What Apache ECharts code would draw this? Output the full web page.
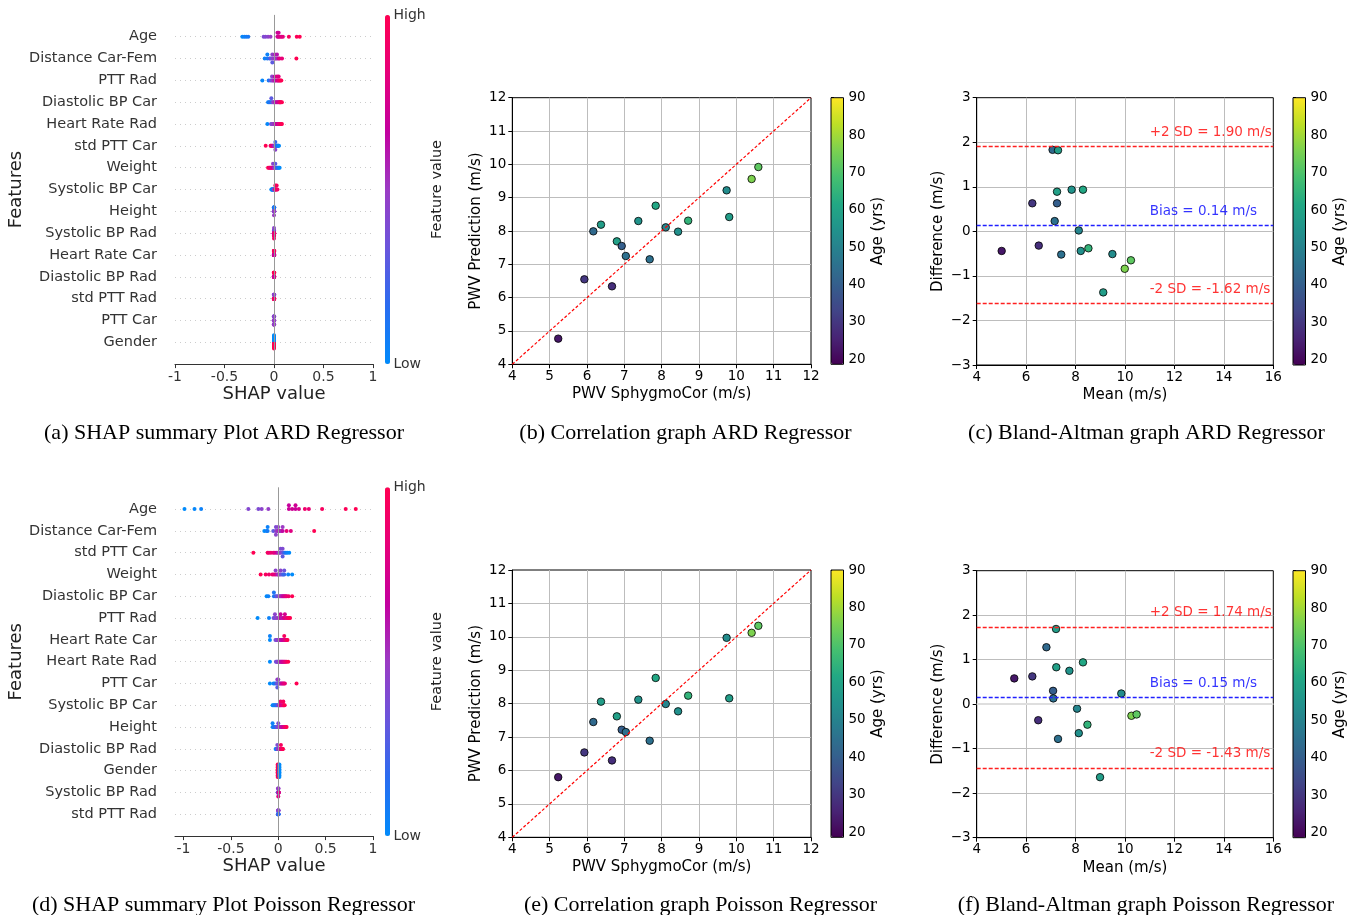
<!DOCTYPE html>
<html>
<head>
<meta charset="utf-8">
<title>SHAP / correlation / Bland-Altman</title>
<script src="https://cdn.jsdelivr.net/npm/echarts@6.0.0/dist/echarts.min.js"></script>
<style>
  html, body { margin: 0; padding: 0; background: #fff; }
  #chart { width: 1359px; height: 915px; }
</style>
</head>
<body>
<div id="chart"></div>
<script>
// ---------- data ----------
const ageRange = [18.6, 90];
const ageTicks = [20, 30, 40, 50, 60, 70, 80, 90];

// 18 test subjects, sorted by reference PWV
const pwvRef = [5.23, 5.93, 6.17, 6.375, 6.67, 6.80, 6.93, 7.04, 7.375, 7.68, 7.84, 8.11, 8.44, 8.71, 9.74, 9.81, 10.41, 10.59];
const pwvPredARD = [4.77, 6.55, 7.99, 8.19, 6.34, 7.69, 7.55, 7.25, 8.30, 7.15, 8.76, 8.11, 7.98, 8.31, 9.22, 8.42, 9.56, 9.92];
const pwvPredPoisson = [5.80, 6.54, 7.45, 8.06, 6.30, 7.62, 7.22, 7.15, 8.12, 6.89, 8.77, 7.99, 7.77, 8.24, 9.97, 8.16, 10.12, 10.33];
const age = [23, 30, 43, 58, 28, 59, 40, 45, 55, 45, 61, 51, 54, 65, 53, 58, 76, 72];

// Bland-Altman points (same subject order)
const baMeanARD = [5.01, 6.25, 7.07, 7.29, 6.51, 7.25, 7.25, 7.155, 7.84, 7.42, 8.30, 8.13, 8.21, 8.52, 9.49, 9.12, 9.99, 10.24];
const baDiffARD = [-0.44, 0.63, 1.83, 1.82, -0.32, 0.89, 0.63, 0.23, 0.935, -0.52, 0.935, 0.02, -0.44, -0.38, -0.51, -1.37, -0.84, -0.65];
const baMeanPoisson = [5.52, 6.25, 6.82, 7.21, 6.49, 7.22, 7.09, 7.10, 7.75, 7.29, 8.30, 8.06, 8.13, 8.48, 9.85, 8.99, 10.26, 10.47];
const baDiffPoisson = [0.58, 0.625, 1.28, 1.69, -0.36, 0.83, 0.30, 0.13, 0.75, -0.78, 0.94, -0.10, -0.65, -0.46, 0.24, -1.64, -0.26, -0.23];
const loaARD = [1.90, 0.14, -1.62];      // +2SD, bias, -2SD
const loaPoisson = [1.74, 0.15, -1.43];
const loaNames = ['+2 SD', 'Bias', '-2 SD'];

// SHAP summary, features listed top to bottom; fv = normalised feature value
const featuresARD = ['Age', 'Distance Car-Fem', 'PTT Rad', 'Diastolic BP Car', 'Heart Rate Rad', 'std PTT Car', 'Weight',
  'Systolic BP Car', 'Height', 'Systolic BP Rad', 'Heart Rate Car', 'Diastolic BP Rad', 'std PTT Rad', 'PTT Car', 'Gender'];
const shapARD = [
  [-0.32, -0.30, -0.28, -0.26, -0.105, -0.085, -0.06, -0.035, 0.035, 0.035, 0.047, 0.047, 0.06, 0.075, 0.09, 0.15, 0.23, 0.26],
  [-0.094, -0.067, -0.067, -0.044, -0.03, -0.017, -0.017, -0.017, -0.005, 0.007, 0.007, 0.018, 0.03, 0.03, 0.045, 0.057, 0.081, 0.226],
  [-0.118, -0.054, -0.034, -0.02, -0.02, -0.01, 0.0, 0.007, 0.007, 0.017, 0.03, 0.03, 0.04, 0.047, 0.047, 0.057, 0.065, 0.074],
  [-0.06, -0.05, -0.04, -0.027, -0.027, -0.015, -0.005, 0.0, 0.01, 0.02, 0.03, 0.04, 0.05, 0.055, 0.06, 0.065, 0.07, 0.08],
  [-0.067, -0.03, -0.022, -0.015, -0.008, 0.0, 0.005, 0.012, 0.018, 0.025, 0.03, 0.038, 0.045, 0.05, 0.058, 0.065, 0.072, 0.08],
  [-0.084, -0.035, -0.03, -0.022, -0.015, -0.008, 0.0, 0.006, 0.0135, 0.0135, 0.0135, 0.02, 0.026, 0.03, 0.035, 0.04, 0.045, 0.05],
  [-0.06, -0.05, -0.042, -0.035, -0.028, -0.02, -0.01, -0.01, 0.0, 0.006, 0.0135, 0.0135, 0.02, 0.027, 0.034, 0.042, 0.05, 0.057],
  [-0.027, -0.023, -0.02, -0.016, -0.013, -0.01, -0.007, -0.003, 0.0, 0.004, 0.007, 0.01, 0.0135, 0.0135, 0.02, 0.027, 0.027, 0.035],
  [-0.002, -0.002, -0.0015, -0.001, -0.001, -0.0005, 0, 0, 0, 0.0005, 0.001, 0.001, 0.0015, 0.002, 0.002, 0.0025, 0.003, 0.003],
  [0, 0, 0, 0, 0, -0.001, -0.001, -0.001, 0.001, 0.001, 0.001, -0.002, 0.002, -0.0015, 0.0015, -0.0005, 0.0005, 0.0025],
  [-0.002, -0.002, -0.0015, -0.001, -0.001, -0.0005, 0, 0, 0.0005, 0.001, 0.001, 0.0015, 0.002, 0.002, 0.0025, 0.003, 0.003, -0.0025],
  [-0.002, -0.002, -0.0015, -0.001, -0.001, -0.0005, 0, 0, 0.0005, 0.001, 0.001, 0.0015, 0.002, 0.002, 0.0025, 0.003, 0.003, -0.0025],
  [-0.002, -0.002, -0.0015, -0.001, -0.001, -0.0005, 0, 0, 0.0005, 0.001, 0.001, 0.0015, 0.002, 0.002, 0.0025, 0.003, 0.003, -0.0025],
  [0, 0, 0, -0.002, -0.002, -0.002, 0.002, 0.002, 0.002, -0.001, -0.001, -0.001, 0.001, 0.001, 0.001, -0.003, 0.003, 0.0005],
  [0, 0, 0, 0, 0, 0, 0, 0, 0, 0, 0, 0, 0, 0, 0, 0, 0, 0]
];
const fvARD = [
  [0.02, 0.05, 0.08, 0.1, 0.4, 0.42, 0.45, 0.5, 0.72, 0.7, 0.75, 0.72, 0.78, 0.8, 0.82, 0.95, 0.98, 1.0],
  [0.05, 0.1, 0.05, 0.2, 0.35, 0.4, 0.45, 0.3, 0.5, 0.45, 0.55, 0.6, 0.5, 0.6, 0.7, 0.8, 0.85, 1.0],
  [0.02, 0.1, 0.3, 0.4, 0.45, 0.5, 0.55, 0.6, 0.65, 0.7, 0.7, 0.8, 0.75, 0.85, 0.8, 0.9, 0.95, 1.0],
  [0.05, 0.1, 0.12, 0.15, 0.3, 0.35, 0.45, 0.5, 0.55, 0.6, 0.65, 0.7, 0.75, 0.8, 0.85, 0.9, 0.95, 1.0],
  [0.02, 0.35, 0.4, 0.42, 0.45, 0.5, 0.52, 0.55, 0.6, 0.65, 0.7, 0.72, 0.75, 0.8, 0.85, 0.9, 0.95, 1.0],
  [1.0, 0.95, 0.9, 0.85, 0.8, 0.7, 0.6, 0.5, 0.3, 0.2, 0.45, 0.35, 0.25, 0.15, 0.1, 0.08, 0.05, 0.0],
  [1.0, 0.95, 0.92, 0.9, 0.85, 0.8, 0.7, 0.45, 0.6, 0.5, 0.4, 0.3, 0.35, 0.25, 0.2, 0.12, 0.05, 0.0],
  [0.0, 0.02, 0.05, 0.08, 0.1, 0.12, 0.15, 0.2, 0.3, 0.45, 0.5, 0.6, 0.9, 0.95, 0.85, 1.0, 0.95, 0.9],
  [0.4, 0.1, 0.45, 0.4, 0.05, 0.4, 0.45, 0.1, 0.5, 0.4, 0.35, 0.1, 0.4, 0.45, 0.15, 0.4, 0.5, 0.1],
  [0.75, 0.45, 0.8, 0.45, 0.9, 0.7, 0.45, 0.85, 0.75, 0.4, 0.9, 0.6, 0.75, 0.5, 0.7, 0.8, 0.65, 0.9],
  [0.75, 0.95, 0.7, 0.75, 0.95, 0.7, 0.75, 0.95, 0.7, 0.75, 0.95, 0.7, 0.75, 0.95, 0.7, 0.75, 0.95, 0.7],
  [0.8, 1.0, 0.75, 0.8, 0.95, 0.7, 0.85, 1.0, 0.75, 0.8, 1.0, 0.7, 0.8, 0.95, 0.75, 0.85, 1.0, 0.7],
  [0.95, 0.45, 0.9, 0.95, 0.45, 0.9, 0.95, 0.45, 0.9, 0.95, 0.45, 0.9, 0.95, 0.45, 0.9, 0.95, 0.45, 0.9],
  [0.45, 0.4, 0.5, 0.42, 0.38, 0.48, 0.45, 0.4, 0.5, 0.42, 0.45, 0.5, 0.4, 0.45, 0.48, 0.42, 0.45, 0.5],
  [0, 0, 1, 0, 1, 0, 1, 0, 1, 0, 1, 0, 1, 0, 1, 0, 1, 0]
];

const featuresPoisson = ['Age', 'Distance Car-Fem', 'std PTT Car', 'Weight', 'Diastolic BP Car', 'PTT Rad', 'Heart Rate Car',
  'Heart Rate Rad', 'PTT Car', 'Systolic BP Car', 'Height', 'Diastolic BP Rad', 'Gender', 'Systolic BP Rad', 'std PTT Rad'];
const shapPoisson = [
  [-0.99, -0.884, -0.814, -0.316, -0.21, -0.175, -0.105, 0.112, 0.112, 0.147, 0.182, 0.182, 0.218, 0.281, 0.323, 0.463, 0.712, 0.818],
  [-0.147, -0.123, -0.112, -0.112, -0.053, -0.025, -0.025, -0.025, -0.01, 0.0, 0.0, 0.015, 0.03, 0.046, 0.046, 0.088, 0.133, 0.379],
  [-0.263, -0.112, -0.098, -0.077, -0.053, -0.035, -0.015, 0.0, 0.012, 0.025, 0.025, 0.046, 0.046, 0.046, 0.063, 0.08, 0.095, 0.116],
  [-0.186, -0.133, -0.098, -0.063, -0.045, -0.028, -0.028, -0.01, 0.0, 0.012, 0.025, 0.025, 0.04, 0.052, 0.063, 0.063, 0.105, 0.147],
  [-0.123, -0.105, -0.046, -0.046, -0.03, -0.015, 0.0, 0.01, 0.02, 0.03, 0.04, 0.05, 0.06, 0.07, 0.08, 0.09, 0.11, 0.147],
  [-0.218, -0.098, -0.05, -0.035, -0.035, -0.02, 0.0, 0.01, 0.025, 0.025, 0.04, 0.055, 0.07, 0.07, 0.085, 0.1, 0.112, 0.125],
  [-0.088, -0.088, -0.03, -0.02, -0.01, 0.0, 0.008, 0.016, 0.025, 0.033, 0.041, 0.05, 0.063, 0.063, 0.072, 0.08, 0.09, 0.098],
  [-0.088, -0.025, -0.018, -0.01, -0.004, 0.003, 0.01, 0.017, 0.024, 0.031, 0.038, 0.045, 0.052, 0.06, 0.068, 0.077, 0.088, 0.105],
  [-0.088, -0.05, -0.035, -0.02, -0.01, -0.01, -0.01, 0.0, 0.0, 0.01, 0.02, 0.03, 0.04, 0.05, 0.06, 0.07, 0.193, -0.005],
  [-0.06, -0.05, -0.04, -0.03, -0.02, -0.01, 0.0, 0.005, 0.012, 0.018, 0.025, 0.025, 0.035, 0.045, 0.053, 0.053, 0.06, 0.068],
  [-0.06, -0.06, -0.05, -0.04, -0.03, -0.02, -0.01, 0.0, 0.0, 0.01, 0.02, 0.03, 0.04, 0.05, 0.06, 0.07, 0.08, 0.088],
  [-0.028, -0.022, -0.016, -0.012, -0.01, -0.01, -0.005, 0.0, 0.005, 0.01, 0.015, 0.02, 0.028, 0.028, 0.035, 0.04, 0.045, 0.05],
  [-0.006, -0.006, -0.006, -0.006, -0.006, -0.006, -0.006, -0.006, -0.006, 0.012, 0.012, 0.012, 0.012, 0.012, 0.012, 0.012, 0.012, 0.012],
  [0, 0, 0, -0.003, -0.003, 0.003, 0.003, -0.006, 0.006, -0.0015, 0.0015, -0.0045, 0.0045, -0.001, 0.001, 0.002, -0.002, 0.005],
  [-0.002, -0.002, -0.0015, -0.001, -0.001, -0.0005, 0, 0, 0.0005, 0.001, 0.001, 0.0015, 0.002, 0.002, 0.0025, 0.003, 0.003, -0.0025]
];
const fvPoisson = [
  [0.0, 0.02, 0.05, 0.42, 0.4, 0.45, 0.48, 0.7, 0.68, 0.72, 0.7, 0.72, 0.75, 0.9, 0.85, 0.95, 0.98, 1.0],
  [0.0, 0.05, 0.08, 0.05, 0.3, 0.45, 0.4, 0.45, 0.5, 0.55, 0.45, 0.6, 0.55, 0.65, 0.5, 0.85, 0.8, 1.0],
  [1.0, 0.95, 0.9, 0.88, 0.85, 0.8, 0.7, 0.55, 0.45, 0.45, 0.4, 0.35, 0.4, 0.3, 0.2, 0.1, 0.05, 0.0],
  [1.0, 0.95, 0.9, 0.88, 0.85, 0.8, 0.45, 0.6, 0.55, 0.5, 0.4, 0.45, 0.3, 0.25, 0.2, 0.35, 0.05, 0.0],
  [0.0, 0.05, 0.1, 0.12, 0.2, 0.3, 0.4, 0.45, 0.5, 0.55, 0.6, 0.65, 0.7, 0.75, 0.8, 0.85, 0.9, 1.0],
  [0.0, 0.05, 0.35, 0.4, 0.45, 0.45, 0.5, 0.55, 0.65, 0.7, 0.6, 0.7, 0.8, 0.75, 0.85, 0.9, 0.95, 1.0],
  [0.0, 0.05, 0.35, 0.4, 0.45, 0.45, 0.5, 0.55, 0.6, 0.62, 0.65, 0.7, 0.75, 0.95, 0.8, 0.85, 0.9, 1.0],
  [0.0, 0.35, 0.38, 0.4, 0.42, 0.45, 0.5, 0.55, 0.6, 0.62, 0.65, 0.7, 0.72, 0.75, 0.8, 0.85, 0.9, 1.0],
  [0.0, 0.05, 0.1, 0.2, 0.4, 0.45, 0.3, 0.45, 0.5, 0.5, 0.55, 0.6, 0.7, 0.75, 0.8, 0.85, 1.0, 0.35],
  [0.0, 0.05, 0.08, 0.1, 0.15, 0.2, 0.3, 0.45, 0.55, 0.65, 0.8, 0.9, 0.75, 0.8, 0.85, 0.95, 0.9, 1.0],
  [0.0, 0.05, 0.1, 0.12, 0.15, 0.25, 0.35, 0.45, 0.4, 0.5, 0.55, 0.6, 0.65, 0.7, 0.8, 0.85, 0.9, 1.0],
  [0.0, 0.05, 0.1, 0.15, 0.45, 0.4, 0.3, 0.45, 0.5, 0.55, 0.6, 0.7, 0.8, 0.95, 0.85, 0.9, 0.95, 1.0],
  [1, 1, 1, 1, 1, 1, 1, 1, 1, 0, 0, 0, 0, 0, 0, 0, 0, 0],
  [0.3, 0.45, 0.8, 0.3, 0.45, 0.7, 0.5, 0.2, 0.85, 0.4, 0.6, 0.3, 0.75, 0.45, 0.5, 0.6, 0.4, 0.8],
  [0.15, 0.45, 0.2, 0.15, 0.45, 0.2, 0.15, 0.45, 0.2, 0.15, 0.45, 0.2, 0.15, 0.45, 0.2, 0.15, 0.45, 0.2]
];

const shapTicks = [-1, -0.5, 0, 0.5, 1];
const corrLims = [4, 12];
const baXLims = [4, 16];
const baYLims = [-3, 3];
const loaLabelX = 11;

// ---------- styling ----------
const FONT = 'DejaVu Sans';
const viridis = ['#440154', '#482475', '#414487', '#355f8d', '#2a788e', '#21918c', '#22a884', '#44bf70', '#7ad151', '#bddf26', '#fde725'];
const shapRedBlue = ['#008bfb', '#2a6cf0', '#6a55dc', '#9b3bc4', '#c3009f', '#e6007a', '#ff0052'];

const grids = [], xAxes = [], yAxes = [], series = [], visualMaps = [];

// shap's beeswarm: stack points that fall in the same of 100 bins
function beeswarm(vals, row) {
  const n = vals.length;
  const mn = Math.min(...vals), mx = Math.max(...vals);
  const quant = vals.map(v => Math.round(100 * (v - mn) / (mx - mn + 1e-8)));
  const order = [...Array(n).keys()].sort((a, b) => quant[a] - quant[b] || a - b);
  const ys = new Array(n).fill(0);
  let layer = 0, last = -1;
  order.forEach(i => {
    if (quant[i] !== last) layer = 0;
    ys[i] = Math.ceil(layer / 2) * ((layer % 2) * 2 - 1);
    layer++;
    last = quant[i];
  });
  const m = Math.max(...ys.map(y => y + 1));
  return ys.map(y => row + y * 0.9 * (0.4 / m));
}

function txt(size, color) {
  return { fontFamily: FONT, fontSize: size, color: color || '#000' };
}

function hline(gi, values, style) {
  // empty helper series that only carries a horizontal reference line
  series.push({
    type: 'scatter', xAxisIndex: gi, yAxisIndex: gi, data: [], silent: true,
    markLine: { silent: true, symbol: 'none', label: { show: false }, animation: false,
      lineStyle: style, data: values.map(v => ({ yAxis: v })) }
  });
}

function addShapPanel(box, features, shapVals, fvVals, xMin) {
  const gi = grids.length;
  const n = features.length;
  grids.push({ left: box.left, top: box.top, width: box.width, height: box.height, show: false, outerBoundsMode: 'none' });
  xAxes.push({
    gridIndex: gi, type: 'value', min: xMin, max: 1,
    axisLine: { show: true, onZero: false, lineStyle: { color: '#333', width: 1 } },
    axisTick: { show: true, length: 4, lineStyle: { color: '#333' }, customValues: shapTicks },
    axisLabel: Object.assign(txt(14, '#333'), { margin: 6, customValues: shapTicks, formatter: v => String(v) }),
    splitLine: { show: false },
    name: 'SHAP value', nameLocation: 'middle', nameGap: 21, nameTextStyle: txt(18, '#222')
  });
  yAxes.push({
    gridIndex: gi, type: 'value', min: -1, max: n, interval: 1,
    axisLine: { show: false }, axisTick: { show: false },
    axisLabel: Object.assign(txt(14.5, '#333'), { margin: 18, formatter: v => (v >= 0 && v < n) ? features[n - 1 - v] : '' }),
    splitLine: { show: true, showMinLine: false, showMaxLine: false, lineStyle: { color: '#cccccc', width: 1, type: [1, 4] } },
    name: 'Features', nameLocation: 'middle', nameGap: 150, nameRotate: 90, nameTextStyle: txt(18, '#222')
  });
  const data = [];
  features.forEach((f, k) => {
    const ys = beeswarm(shapVals[k], n - 1 - k);
    shapVals[k].forEach((s, j) => data.push([s, ys[j], fvVals[k][j]]));
  });
  const si = series.length;
  series.push({
    type: 'scatter', xAxisIndex: gi, yAxisIndex: gi, data: data, symbolSize: 4, silent: true,
    itemStyle: { opacity: 1 },
    markLine: { silent: true, symbol: 'none', label: { show: false }, animation: false,
      lineStyle: { color: '#999999', width: 1, type: 'solid' }, data: [{ xAxis: 0 }] }
  });
  visualMaps.push({
    type: 'continuous', seriesIndex: si, dimension: 2, min: 0, max: 1, inRange: { color: shapRedBlue },
    calculable: false, orient: 'vertical', left: box.cbLeft, top: box.top, itemWidth: 5, itemHeight: box.height,
    padding: 0, align: 'right'
  });
  const ci = grids.length;
  grids.push({ left: box.cbLeft, top: box.top, width: 5, height: box.height, show: false, outerBoundsMode: 'none' });
  xAxes.push({ gridIndex: ci, type: 'value', show: false, min: 0, max: 1 });
  yAxes.push({
    gridIndex: ci, type: 'value', min: 0, max: 1, position: 'right',
    axisLine: { show: false }, axisTick: { show: false }, splitLine: { show: false },
    axisLabel: Object.assign(txt(14, '#333'), { margin: 3.5, customValues: [0, 1], formatter: v => v === 1 ? 'High' : 'Low' }),
    name: 'Feature value', nameLocation: 'middle', nameGap: 31, nameRotate: 90, nameTextStyle: txt(14.5, '#222')
  });
}

function frameAxes(gi, xr, xStep, yr, yStep, xName, yName, yMinus) {
  const common = {
    gridIndex: gi, type: 'value',
    axisLine: { show: true, onZero: false, lineStyle: { color: '#000', width: 1 } },
    axisTick: { show: true, length: 4, lineStyle: { color: '#000', width: 1 } },
    splitLine: { show: true, showMinLine: false, showMaxLine: false, lineStyle: { color: '#bdbdbd', width: 1 } }
  };
  xAxes.push(Object.assign({}, common, {
    min: xr[0], max: xr[1], interval: xStep,
    axisLabel: Object.assign(txt(13.5), { margin: 5 }),
    name: xName, nameLocation: 'middle', nameGap: 22.5, nameTextStyle: txt(15)
  }));
  yAxes.push(Object.assign({}, common, {
    min: yr[0], max: yr[1], interval: yStep,
    axisLabel: Object.assign(txt(13.5), { margin: 6, formatter: v => (yMinus && v < 0) ? '\u2212' + Math.abs(v) : String(v) }),
    name: yName, nameLocation: 'middle', nameGap: yMinus ? 31.5 : 28.5, nameRotate: 90, nameTextStyle: txt(15)
  }));
}

function addAgeColorbar(box, si) {
  visualMaps.push({
    type: 'continuous', seriesIndex: si, dimension: 2, min: ageRange[0], max: ageRange[1], inRange: { color: viridis },
    calculable: false, orient: 'vertical', left: box.cbLeft, top: box.top, itemWidth: 12.5, itemHeight: box.height,
    padding: 0, align: 'right'
  });
  const ci = grids.length;
  grids.push({ left: box.cbLeft, top: box.top, width: 12.5, height: box.height, show: true, z: 10,
    backgroundColor: 'transparent', borderColor: '#000', borderWidth: 1, outerBoundsMode: 'none' });
  xAxes.push({ gridIndex: ci, type: 'value', show: false, min: 0, max: 1 });
  yAxes.push({
    gridIndex: ci, type: 'value', min: ageRange[0], max: ageRange[1], position: 'right',
    axisLine: { show: false }, splitLine: { show: false },
    axisTick: { show: true, length: 3, customValues: ageTicks, lineStyle: { color: '#000' } },
    axisLabel: Object.assign(txt(13.5), { margin: 5, customValues: ageTicks }),
    name: 'Age (yrs)', nameLocation: 'middle', nameGap: 27, nameRotate: 90, nameTextStyle: txt(15)
  });
}

function addCorrPanel(box, ref, pred) {
  const gi = grids.length;
  grids.push({ left: box.left, top: box.top, width: box.width, height: box.height, show: true,
    borderColor: '#000', borderWidth: 1, backgroundColor: '#fff', outerBoundsMode: 'none' });
  frameAxes(gi, corrLims, 1, corrLims, 1, 'PWV SphygmoCor (m/s)', 'PWV Prediction (m/s)', false);
  const si = series.length;
  series.push({
    type: 'scatter', xAxisIndex: gi, yAxisIndex: gi, symbolSize: 7.5, silent: true,
    data: ref.map((x, i) => [x, pred[i], age[i]]),
    itemStyle: { borderColor: '#000', borderWidth: 0.8, opacity: 1 },
    markLine: { silent: true, symbol: 'none', label: { show: false }, animation: false,
      lineStyle: { color: '#ff0000', width: 1.2, type: [3, 2] },
      data: [[{ coord: [corrLims[0], corrLims[0]] }, { coord: [corrLims[1], corrLims[1]] }]] }
  });
  addAgeColorbar(box, si);
}

function addBAPanel(box, means, diffs, loa, zeroLine) {
  const gi = grids.length;
  grids.push({ left: box.left, top: box.top, width: box.width, height: box.height, show: true,
    borderColor: '#000', borderWidth: 1, backgroundColor: '#fff', outerBoundsMode: 'none' });
  frameAxes(gi, baXLims, 2, baYLims, 1, 'Mean (m/s)', 'Difference (m/s)', true);
  if (zeroLine) hline(gi, [0], { color: '#dedede', width: 2, type: 'solid' });
  hline(gi, [loa[0], loa[2]], { color: '#ff2020', width: 1.4, type: [4, 2] });
  hline(gi, [loa[1]], { color: '#2020ff', width: 1.4, type: [4, 2] });
  const si = series.length;
  series.push({
    type: 'scatter', xAxisIndex: gi, yAxisIndex: gi, symbolSize: 7.5, silent: true,
    data: means.map((m, i) => [m, diffs[i], age[i]]),
    itemStyle: { borderColor: '#000', borderWidth: 0.8, opacity: 1 }
  });
  series.push({
    type: 'scatter', xAxisIndex: gi, yAxisIndex: gi, symbolSize: 0, silent: true,
    data: loa.map((v, i) => ({
      value: [loaLabelX, v],
      label: { color: i === 1 ? '#0000ff' : '#ff0000' },
      name: loaNames[i] + ' = ' + v.toFixed(2) + ' m/s'
    })),
    label: Object.assign({ show: true, position: 'right', distance: 0, offset: [0, -14], formatter: p => p.name }, txt(13.5))
  });
  addAgeColorbar(box, si);
}

// ---------- panels ----------
addShapPanel({ left: 175, top: 14.9, width: 198, height: 349.2, cbLeft: 385 }, featuresARD, shapARD, fvARD, -1);
addCorrPanel({ left: 512.3, top: 97.7, width: 298.7, height: 266.6, cbLeft: 831 }, pwvRef, pwvPredARD);
addBAPanel({ left: 976.7, top: 97.7, width: 296.6, height: 267.3, cbLeft: 1293 }, baMeanARD, baDiffARD, loaARD, false);
addShapPanel({ left: 175, top: 487.3, width: 198, height: 348.8, cbLeft: 385 }, featuresPoisson, shapPoisson, fvPoisson, -1.09);
addCorrPanel({ left: 512.3, top: 570, width: 298.7, height: 267.3, cbLeft: 831 }, pwvRef, pwvPredPoisson);
addBAPanel({ left: 976.7, top: 570.7, width: 296.6, height: 267, cbLeft: 1293 }, baMeanPoisson, baDiffPoisson, loaPoisson, true);

const captions = [
  ['(a) SHAP summary Plot ARD Regressor', 224, 433],
  ['(b) Correlation graph ARD Regressor', 685.5, 433],
  ['(c) Bland-Altman graph ARD Regressor', 1146.5, 433],
  ['(d) SHAP summary Plot Poisson Regressor', 223.5, 905],
  ['(e) Correlation graph Poisson Regressor', 700.5, 905],
  ['(f) Bland-Altman graph Poisson Regressor', 1146, 905]
];

const chart = echarts.init(document.getElementById('chart'));
chart.setOption({
  animation: false,
  backgroundColor: '#fff',
  grid: grids,
  xAxis: xAxes,
  yAxis: yAxes,
  visualMap: visualMaps,
  series: series,
  graphic: captions.map(c => ({
    type: 'text', x: c[1], y: c[2], silent: true,
    style: { text: c[0], textAlign: 'center', textVerticalAlign: 'middle', fill: '#000',
      font: '22px "Liberation Serif", "Times New Roman", serif' }
  }))
});
</script>
</body>
</html>
